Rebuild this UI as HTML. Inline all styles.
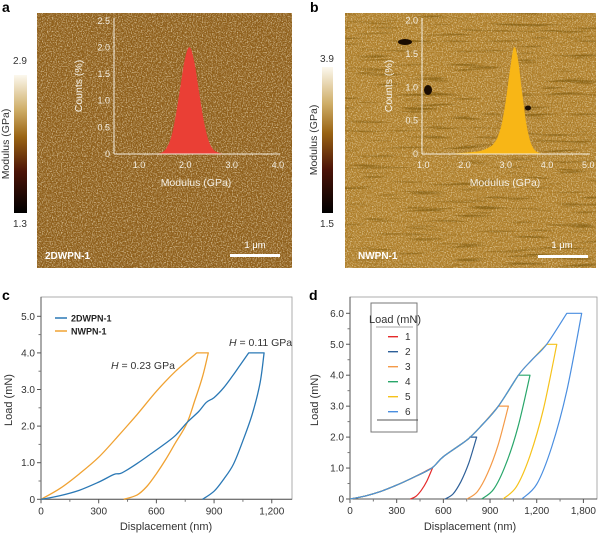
<!DOCTYPE html>
<html><head><meta charset="utf-8">
<style>
html,body{margin:0;padding:0;background:#fff;}
svg{display:block;font-family:"Liberation Sans",sans-serif;}
</style></head>
<body>
<svg id="fig" width="600" height="535" viewBox="0 0 600 535" xmlns="http://www.w3.org/2000/svg">
<defs>
<linearGradient id="cbar" x1="0" y1="0" x2="0" y2="1">
<stop offset="0" stop-color="#fcf8ee"/><stop offset="0.25" stop-color="#cfae68"/><stop offset="0.45" stop-color="#9a6414"/><stop offset="0.7" stop-color="#4c1408"/><stop offset="1" stop-color="#000"/>
</linearGradient>
<filter id="noiseL" x="0" y="0" width="1" height="1" filterUnits="objectBoundingBox">
<feTurbulence type="fractalNoise" baseFrequency="0.8" numOctaves="2" seed="3"/>
<feColorMatrix type="matrix" values="0 0 0 0 1  0 0 0 0 0.92  0 0 0 0 0.7  3.2 0 0 0 -1.45"/>
</filter>
<filter id="noiseD" x="0" y="0" width="1" height="1" filterUnits="objectBoundingBox">
<feTurbulence type="fractalNoise" baseFrequency="0.6" numOctaves="2" seed="8"/>
<feColorMatrix type="matrix" values="0 0 0 0 0.22  0 0 0 0 0.1  0 0 0 0 0  0 -3.2 0 0 1.35"/>
</filter>
<filter id="streak" x="0" y="0" width="1" height="1" filterUnits="objectBoundingBox">
<feTurbulence type="fractalNoise" baseFrequency="0.02 0.3" numOctaves="2" seed="5"/>
<feColorMatrix type="matrix" values="0 0 0 0 0.15  0 0 0 0 0.07  0 0 0 0 0  -5 0 0 0 2.1"/>
</filter>
</defs>

<!-- panel a -->
<text x="2" y="12" font-size="14" font-weight="bold">a</text>
<rect x="14" y="75" width="13" height="138" fill="url(#cbar)"/>
<text x="20" y="64" font-size="10" text-anchor="middle" fill="#333">2.9</text>
<text x="20" y="227" font-size="10" text-anchor="middle" fill="#333">1.3</text>
<text transform="translate(9,144) rotate(-90)" font-size="10.5" text-anchor="middle" fill="#333">Modulus (GPa)</text>
<g>
<rect x="37" y="13" width="255" height="255" fill="#8f5f1c"/>
<rect x="37" y="13" width="255" height="255" filter="url(#noiseL)" opacity="0.6"/>
<rect x="37" y="13" width="255" height="255" filter="url(#noiseD)" opacity="0.45"/>
</g>
<g id="insetA"></g>
<text x="45" y="259" font-size="10" font-weight="bold" fill="#fff">2DWPN-1</text>
<text x="255" y="248" font-size="9.5" fill="#fff" text-anchor="middle">1 μm</text>
<rect x="230" y="254" width="50" height="3" fill="#fff"/>

<!-- panel b -->
<text x="310" y="12" font-size="14" font-weight="bold">b</text>
<rect x="322" y="67" width="11" height="146" fill="url(#cbar)"/>
<text x="327" y="62" font-size="10" text-anchor="middle" fill="#333">3.9</text>
<text x="327" y="227" font-size="10" text-anchor="middle" fill="#333">1.5</text>
<text transform="translate(317,140) rotate(-90)" font-size="10.5" text-anchor="middle" fill="#333">Modulus (GPa)</text>
<g>
<rect x="345" y="13" width="251" height="255" fill="#b0802c"/>
<rect x="345" y="13" width="251" height="255" filter="url(#noiseL)" opacity="0.55"/>
<rect x="345" y="13" width="251" height="255" filter="url(#noiseD)" opacity="0.35"/>
<rect x="345" y="13" width="251" height="255" filter="url(#streak)" opacity="0.5"/>
<ellipse cx="405" cy="42" rx="7" ry="3" fill="#1a0c02"/>
<ellipse cx="428" cy="90" rx="4" ry="5" fill="#1a0c02"/>
<ellipse cx="528" cy="108" rx="3" ry="2.5" fill="#1a0c02"/>
</g>
<g id="insetB"></g>
<text x="358" y="259" font-size="10" font-weight="bold" fill="#fff">NWPN-1</text>
<text x="562" y="248" font-size="9.5" fill="#fff" text-anchor="middle">1 μm</text>
<rect x="538" y="255" width="50" height="3" fill="#fff"/>

<!-- panel c -->
<text x="2" y="300" font-size="14" font-weight="bold">c</text>
<g id="chartC"></g>
<!-- panel d -->
<text x="309" y="300" font-size="14" font-weight="bold">d</text>
<g id="chartD"></g>
</svg>

<script>
// ---------- data ----------
var histABins = [1.3,1.4,1.5,1.6,1.7,1.8,1.9,2.0,2.1,2.2,2.3,2.4,2.5,2.6,2.7,2.8,2.9];
var histACounts = [0,0.01,0.03,0.12,0.33,0.75,1.3,1.82,2.0,1.7,1.15,0.62,0.26,0.09,0.03,0.01,0];
var histATicksX = [1.0,2.0,3.0,4.0];
var histATicksY = [0,0.5,1.0,1.5,2.0,2.5];
var histBBins = [1.6,1.8,2.0,2.2,2.4,2.5,2.6,2.7,2.8,2.9,3.0,3.1,3.2,3.3,3.4,3.5,3.6,3.7,3.8,3.9];
var histBCounts = [0,0.01,0.02,0.03,0.05,0.07,0.1,0.15,0.25,0.45,0.8,1.25,1.6,1.4,0.9,0.45,0.18,0.06,0.02,0];
var histBTicksX = [1.0,2.0,3.0,4.0,5.0];
var histBTicksY = [0,0.5,1.0,1.5,2.0];

var cTicksX = [0,300,600,900,1200];
var cTickLabelsX = ["0","300","600","900","1,200"];
var cTicksY = [0,1,2,3,4,5];
var cTickLabelsY = ["0","1.0","2.0","3.0","4.0","5.0"];
var c2dLoadX = [0,100,200,300,380,420,500,560,640,700,760,820,860,900,950,1000,1040,1080];
var c2dLoadY = [0,0.1,0.25,0.47,0.68,0.72,0.98,1.2,1.5,1.75,2.1,2.4,2.65,2.78,3.05,3.4,3.7,4.0];
var c2dUnloadX = [1160,1140,1100,1050,1000,950,900,840];
var c2dUnloadY = [4.0,3.2,2.35,1.6,0.95,0.55,0.22,0];
var cNwLoadX = [0,100,200,300,400,500,600,700,810];
var cNwLoadY = [0,0.3,0.7,1.15,1.72,2.32,2.95,3.5,4.0];
var cNwUnloadX = [870,840,800,758,700,650,600,550,500,430];
var cNwUnloadY = [4.0,3.35,2.7,2.07,1.55,1.1,0.7,0.35,0.12,0];

var dTicksX = [0,300,600,900,1200,1500];
var dTickLabelsX = ["0","300","600","900","1,200","1,800"];
var dTicksY = [0,1,2,3,4,5,6];
var dTickLabelsY = ["0","1.0","2.0","3.0","4.0","5.0","6.0"];
var dLoadX = [0,100,200,300,400,525,600,750,850,954,1082,1170,1264,1393];
var dLoadY = [0,0.1,0.25,0.45,0.68,1.0,1.37,1.9,2.4,3.0,4.0,4.5,5.0,6.0];
var dPeaks = [1,2,3,4,5,6];
var dHoldEnd = [530,814,1018,1157,1329,1489];
var dFinal = [386,611,752,846,984,1104];
var dUnloadFrac = [0,0.25,0.5,0.75,1.0];
var dUnloadLoad1 = [0,0.08,0.28,0.58,1.0];
var dUnloadLoad2 = [0,0.16,0.56,1.16,2.0];
var dUnloadLoad3 = [0,0.24,0.84,1.74,3.0];
var dUnloadLoad4 = [0,0.32,1.12,2.32,4.0];
var dUnloadLoad5 = [0,0.4,1.4,2.9,5.0];
var dUnloadLoad6 = [0,0.48,1.68,3.48,6.0];
var dColors = ["#e52a2a","#2d5f98","#f49a48","#28a66a","#f6c21a","#4a8ee0"];

var NS = "http://www.w3.org/2000/svg";
function mk(parent, tag, attrs, txt){
  var e = document.createElementNS(NS, tag);
  for (var k in attrs) e.setAttribute(k, attrs[k]);
  if (txt !== undefined) e.textContent = txt;
  parent.appendChild(e); return e;
}
// smooth Catmull-Rom through screen points
function smooth(pts){
  var d = "M" + pts[0][0].toFixed(1) + "," + pts[0][1].toFixed(1);
  for (var i = 0; i < pts.length - 1; i++) {
    var p0 = pts[i-1] || pts[i], p1 = pts[i], p2 = pts[i+1], p3 = pts[i+2] || p2;
    var c1x = p1[0] + (p2[0]-p0[0])/6, c1y = p1[1] + (p2[1]-p0[1])/6;
    var c2x = p2[0] - (p3[0]-p1[0])/6, c2y = p2[1] - (p3[1]-p1[1])/6;
    d += " C" + c1x.toFixed(1) + "," + c1y.toFixed(1) + " " + c2x.toFixed(1) + "," + c2y.toFixed(1) + " " + p2[0].toFixed(1) + "," + p2[1].toFixed(1);
  }
  return d;
}
function pts(xs, ys, sx, sy){ var r = []; for (var i = 0; i < xs.length; i++) r.push([sx(xs[i]), sy(ys[i])]); return r; }

// ---------- insets ----------
function inset(gid, x0, y0, xUnit, yUnit, axisX0, axisX1, axisYTop, bins, counts, ticksX, ticksY, color, lblX, lblY){
  var g = document.getElementById(gid);
  function sx(v){ return x0 + (v - 1.0) * xUnit; }
  function sy(v){ return y0 - v * yUnit; }
  var d = smooth(pts(bins, counts, sx, sy)) + " Z";
  var p = mk(g, "path", {d: d, fill: color});
  
  
  var ax = mk(g, "line", {x1: axisX0, y1: y0, x2: axisX1, y2: y0, stroke: "#f4efe4", "stroke-width": 1});
  
  
  var ay = mk(g, "line", {x1: axisX0, y1: y0, x2: axisX0, y2: axisYTop, stroke: "#f4efe4", "stroke-width": 1});
  
  
  ticksX.forEach(function(t){
    var tl = mk(g, "text", {x: sx(t), y: y0 + 14, "font-size": 9, fill: "#f4efe4", "text-anchor": "middle"}, t.toFixed(1));
    
    
  });
  ticksY.forEach(function(t){
    var tl = mk(g, "text", {x: axisX0 - 4, y: sy(t) + 3, "font-size": 9, fill: "#f4efe4", "text-anchor": "end"}, t === 0 ? "0" : t.toFixed(1));
    
    
  });
  var xt = mk(g, "text", {x: lblX, y: y0 + 32, "font-size": 10.5, fill: "#f4efe4", "text-anchor": "middle"}, "Modulus (GPa)");
  
  
  var yt = mk(g, "text", {transform: "translate(" + lblY + "," + ((y0 + axisYTop) / 2) + ") rotate(-90)", "font-size": 10.5, fill: "#f4efe4", "text-anchor": "middle"}, "Counts (%)");
  
  
}
inset("insetA", 139, 154, 46.3, 53.3, 114, 280, 18, histABins, histACounts, histATicksX, histATicksY, "#ea3f35", 196, 82);
inset("insetB", 423.3, 154, 41.25, 66.7, 422, 590, 18, histBBins, histBCounts, histBTicksX, histBTicksY, "#f8b616", 505, 392);

// ---------- line charts ----------
function frame(g, L, T, R, B, sx, sy, tx, txl, ty, tyl){
  var f = mk(g, "rect", {x: L, y: T, width: R - L, height: B - T, fill: "none", stroke: "#9a9a9a", "stroke-width": 0.8});
  
  
  var axl = mk(g, "path", {d: "M" + L + "," + T + " L" + L + "," + B + " L" + R + "," + B, fill: "none", stroke: "#555", "stroke-width": 1});
  
  
  tx.forEach(function(t, i){
    mk(g, "line", {x1: sx(t), y1: B, x2: sx(t), y2: B + 4, stroke: "#555"});
    var tl = mk(g, "text", {x: sx(t), y: B + 15, "font-size": 10, fill: "#333", "text-anchor": "middle"}, txl[i]);
    
    
    if (i < tx.length - 1) {
      var m = (t + tx[i+1]) / 2;
      mk(g, "line", {x1: sx(m), y1: B, x2: sx(m), y2: B + 2.5, stroke: "#777"});
    }
  });
  ty.forEach(function(t, i){
    mk(g, "line", {x1: L - 4, y1: sy(t), x2: L, y2: sy(t), stroke: "#555"});
    var tl = mk(g, "text", {x: L - 6, y: sy(t) + 3.5, "font-size": 10, fill: "#333", "text-anchor": "end"}, tyl[i]);
    
    
    if (i < ty.length - 1) {
      var m = (t + ty[i+1]) / 2;
      mk(g, "line", {x1: L - 2.5, y1: sy(m), x2: L, y2: sy(m), stroke: "#777"});
    }
  });
}
function loopPath(lx, ly, ux, uy, sx, sy){
  var a = smooth(pts(lx, ly, sx, sy));
  var u = smooth(pts(ux, uy, sx, sy));
  return a + " L" + u.slice(1);
}

// chart c
(function(){
  var g = document.getElementById("chartC");
  var L = 41, T = 297, R = 292, B = 499.3;
  function sx(v){ return L + v * 0.1923; }
  function sy(v){ return B - v * 36.6; }
  frame(g, L, T, R, B, sx, sy, cTicksX, cTickLabelsX, cTicksY, cTickLabelsY);
  var p1 = mk(g, "path", {d: loopPath(cNwLoadX, cNwLoadY, cNwUnloadX, cNwUnloadY, sx, sy), fill: "none", stroke: "#f0a232", "stroke-width": 1.3, "stroke-linejoin": "round"});
  
  
  var p2 = mk(g, "path", {d: loopPath(c2dLoadX, c2dLoadY, c2dUnloadX, c2dUnloadY, sx, sy), fill: "none", stroke: "#2a78b5", "stroke-width": 1.3, "stroke-linejoin": "round"});
  
  
  var t;
  t = mk(g, "text", {x: 166, y: 530, "font-size": 11, fill: "#333", "text-anchor": "middle"}, "Displacement (nm)");
  
  
  t = mk(g, "text", {transform: "translate(12,400) rotate(-90)", "font-size": 11, fill: "#333", "text-anchor": "middle"}, "Load (mN)");
  
  
  mk(g, "line", {x1: 55, y1: 318, x2: 67, y2: 318, stroke: "#2a78b5", "stroke-width": 1.5});
  t = mk(g, "text", {x: 71, y: 321.5, "font-size": 9, "font-weight": "bold", fill: "#222"}, "2DWPN-1");
  
  
  mk(g, "line", {x1: 55, y1: 331, x2: 67, y2: 331, stroke: "#f0a232", "stroke-width": 1.5});
  t = mk(g, "text", {x: 71, y: 334.5, "font-size": 9, "font-weight": "bold", fill: "#222"}, "NWPN-1");
  
  
  t = mk(g, "text", {x: 111, y: 369, "font-size": 10.5, fill: "#333"});
  t.innerHTML = '<tspan font-style="italic">H</tspan> = 0.23 GPa';
  
  
  t = mk(g, "text", {x: 229, y: 346, "font-size": 10.5, fill: "#333"});
  t.innerHTML = '<tspan font-style="italic">H</tspan> = 0.11 GPa';
  
  
})();

// chart d
(function(){
  var g = document.getElementById("chartD");
  var L = 350, T = 297, R = 597, B = 499;
  function sx(v){ return L + v * 0.1556; }
  function sy(v){ return B - v * 30.95; }
  frame(g, L, T, R, B, sx, sy, dTicksX, dTickLabelsX, dTicksY, dTickLabelsY);
  var unloads = [dUnloadLoad1, dUnloadLoad2, dUnloadLoad3, dUnloadLoad4, dUnloadLoad5, dUnloadLoad6];
  for (var k = 0; k < dPeaks.length; k++) {
    var pk = dPeaks[k];
    var lx = [], ly = [];
    for (var i = 0; i < dLoadX.length; i++) {
      if (dLoadY[i] < pk) { lx.push(dLoadX[i]); ly.push(dLoadY[i]); }
      else {
        var x0 = dLoadX[i-1], y0 = dLoadY[i-1];
        lx.push(x0 + (pk - y0) / (dLoadY[i] - y0) * (dLoadX[i] - x0)); ly.push(pk); break;
      }
    }
    var ux = [], uy = [], ul = unloads[k];
    for (var j = ul.length - 1; j >= 0; j--) {
      ux.push(dFinal[k] + dUnloadFrac[j] * (dHoldEnd[k] - dFinal[k]));
      uy.push(ul[j]);
    }
    var p = mk(g, "path", {d: loopPath(lx, ly, ux, uy, sx, sy), fill: "none", stroke: dColors[k], "stroke-width": 1.2, "stroke-linejoin": "round"});
    
    
  }
  var t;
  t = mk(g, "text", {x: 470, y: 530, "font-size": 11, fill: "#333", "text-anchor": "middle"}, "Displacement (nm)");
  
  
  t = mk(g, "text", {transform: "translate(318,400) rotate(-90)", "font-size": 11, fill: "#333", "text-anchor": "middle"}, "Load (mN)");
  
  
  var lg = mk(g, "g", {});
  
  
  mk(lg, "rect", {x: 371, y: 303, width: 46, height: 129, fill: "#fff", stroke: "#777", "stroke-width": 1});
  t = mk(lg, "text", {x: 395, y: 323, "font-size": 11, fill: "#333", "text-anchor": "middle"}, "Load (mN)");
  
  
  mk(lg, "line", {x1: 376, y1: 327, x2: 413, y2: 327, stroke: "#888", "stroke-width": 0.8});
  dPeaks.forEach(function(pk, k){
    var yy = 336.7 + k * 15;
    mk(lg, "line", {x1: 388, y1: yy, x2: 398, y2: yy, stroke: dColors[k], "stroke-width": 1.4});
    var tt = mk(lg, "text", {x: 405, y: yy + 3.5, "font-size": 10, fill: "#333"}, String(pk));
    
    
  });
  mk(lg, "line", {x1: 377, y1: 420, x2: 418, y2: 420, stroke: "#555", "stroke-width": 0.9});
})();
</script>
</body></html>
